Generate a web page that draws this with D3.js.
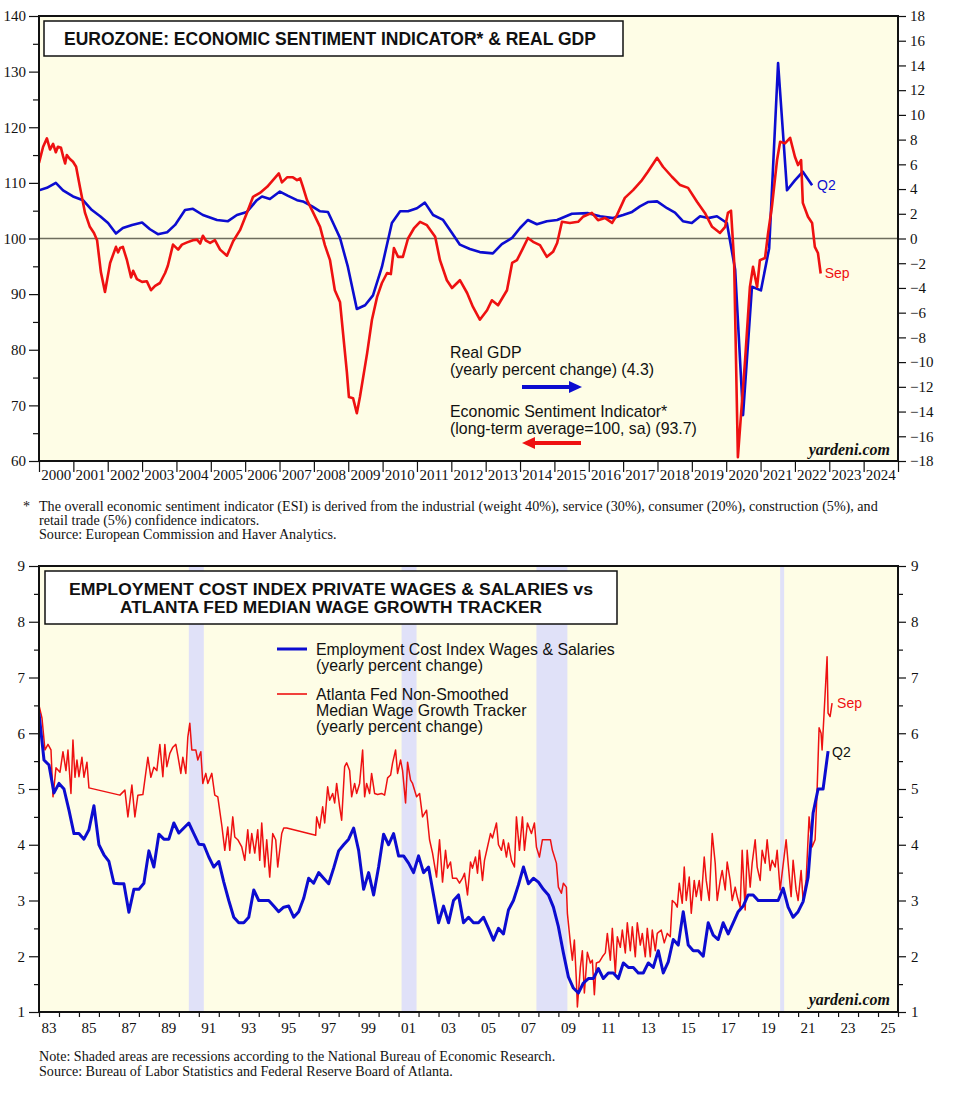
<!DOCTYPE html>
<html><head><meta charset="utf-8">
<script src="https://cdn.jsdelivr.net/npm/d3@7"></script>
<style>
body{margin:0;background:#fff;}
svg{display:block;}
.serif{font-family:"Liberation Serif","Times New Roman",serif;}
.sans{font-family:"Liberation Sans",Arial,sans-serif;}
</style></head>
<body>
<svg id="c" width="955" height="1097"></svg>
<script>
// ---------------- DATA: Eurozone chart ----------------
const esiT = [2000.00,2000.12,2000.23,2000.32,2000.41,2000.49,2000.55,2000.64,2000.70,2000.76,2000.81,2000.90,2000.99,2001.08,2001.19,2001.34,2001.48,2001.60,2001.69,2001.80,2001.92,2002.07,2002.24,2002.30,2002.36,2002.44,2002.56,2002.68,2002.74,2002.85,2003.00,2003.14,2003.26,2003.38,2003.52,2003.67,2003.75,2003.90,2004.05,2004.16,2004.31,2004.48,2004.60,2004.69,2004.77,2004.86,2004.98,2005.12,2005.27,2005.47,2005.65,2005.85,2006.05,2006.23,2006.43,2006.64,2006.81,2006.98,2007.07,2007.22,2007.39,2007.51,2007.60,2007.68,2007.80,2007.97,2008.18,2008.32,2008.47,2008.61,2008.76,2008.88,2008.96,2009.02,2009.14,2009.25,2009.34,2009.55,2009.69,2009.84,2009.98,2010.13,2010.24,2010.33,2010.45,2010.59,2010.74,2010.91,2011.09,2011.29,2011.53,2011.67,2011.87,2012.02,2012.25,2012.46,2012.63,2012.83,2013.04,2013.18,2013.36,2013.62,2013.77,2013.91,2014.09,2014.23,2014.38,2014.58,2014.78,2014.96,2015.08,2015.22,2015.45,2015.69,2015.83,2016.09,2016.27,2016.47,2016.68,2016.82,2017.05,2017.29,2017.55,2017.72,2017.99,2018.16,2018.42,2018.66,2018.89,2019.15,2019.38,2019.59,2019.82,2019.97,2020.05,2020.14,2020.23,2020.34,2020.55,2020.69,2020.78,2020.90,2020.98,2021.13,2021.22,2021.33,2021.48,2021.57,2021.71,2021.86,2022.00,2022.09,2022.18,2022.23,2022.38,2022.50,2022.58,2022.67,2022.75];
const esiV = [113.6,116.5,118.0,116.0,117.0,115.5,116.5,116.3,114.8,113.5,115.0,114.3,113.8,112.9,109.3,104.6,102.1,101.0,99.7,94.0,90.4,95.6,98.5,97.5,98.3,98.5,96.1,93.0,94.2,92.7,92.2,92.3,90.7,91.5,92.0,93.8,95.1,98.9,98.0,98.9,99.3,99.7,99.8,99.1,100.5,99.6,99.2,99.7,98.0,96.9,99.5,101.5,104.6,107.5,108.2,109.3,110.5,111.7,110.1,111.0,111.0,110.5,110.8,109.3,106.9,104.8,102.1,98.8,96.1,90.7,88.6,81.0,76.0,71.5,71.3,68.6,71.5,79.4,85.4,89.5,92.0,93.8,93.6,98.3,96.7,96.7,100.0,101.8,103.0,102.4,100.3,96.1,92.5,91.1,92.5,90.2,87.7,85.4,87.1,88.9,88.0,90.7,95.6,96.1,98.3,100.1,99.4,98.8,96.7,97.6,99.2,103.0,102.8,103.0,103.9,104.6,103.3,103.7,102.8,104.2,107.3,108.7,110.5,112.0,114.5,112.9,111.1,109.6,109.1,106.6,104.6,102.1,101.0,102.1,104.6,105.0,96.0,60.7,78.2,91.3,94.9,91.3,96.1,96.5,101.0,105.7,114.1,117.4,117.1,118.1,114.7,113.2,114.1,106.4,103.9,102.8,98.5,97.4,93.7];
const gdpT = [2000.00,2000.23,2000.49,2000.70,2000.99,2001.28,2001.54,2001.78,2002.01,2002.24,2002.44,2002.71,2003.00,2003.23,2003.46,2003.73,2003.96,2004.25,2004.48,2004.77,2005.18,2005.50,2005.76,2006.05,2006.34,2006.49,2006.72,2007.01,2007.25,2007.51,2007.68,2007.95,2008.18,2008.41,2008.56,2008.76,2008.99,2009.25,2009.49,2009.72,2009.98,2010.27,2010.51,2010.74,2011.00,2011.23,2011.47,2011.76,2012.02,2012.25,2012.54,2012.83,2013.21,2013.47,2013.77,2014.00,2014.23,2014.49,2014.78,2015.08,2015.51,2015.98,2016.33,2016.71,2017.00,2017.26,2017.49,2017.72,2017.99,2018.28,2018.51,2018.74,2019.00,2019.24,2019.47,2019.73,2020.02,2020.26,2020.49,2020.75,2021.01,2021.25,2021.51,2021.77,2022.00,2022.23,2022.50];
const gdpV = [3.9,4.1,4.5,3.9,3.4,3.1,2.3,1.8,1.25,0.4,0.85,1.1,1.3,0.75,0.35,0.5,1.1,2.3,2.4,1.9,1.5,1.4,1.9,2.15,3.1,3.4,3.2,3.8,3.45,3.1,3.0,2.6,2.2,2.15,1.25,0.05,-2.3,-5.7,-5.4,-4.6,-2.3,1.25,2.2,2.2,2.45,2.9,1.9,1.5,0.45,-0.5,-0.85,-1.1,-1.2,-0.45,0.05,0.85,1.5,1.15,1.4,1.5,2.0,2.05,1.8,1.65,1.9,2.15,2.6,2.95,3.0,2.45,2.1,1.4,1.25,1.8,1.65,1.8,1.25,-2.5,-14.3,-3.9,-4.2,-0.8,14.2,3.9,4.7,5.4,4.3];
const topYears = d3.range(2000, 2025);
const topLeftTicks = [60,70,80,90,100,110,120,130,140];
const topRightTicks = d3.range(-18, 19, 2);

// ---------------- DATA: Wages chart ----------------
const eciStartYear = 1983;  // quarterly, first quarter 1983
const eciValues = [6.36,5.52,5.43,4.93,5.1,5.0,4.62,4.2,4.2,4.1,4.27,4.7,4.0,3.82,3.7,3.31,3.3,3.3,2.79,3.2,3.2,3.31,3.89,3.6,4.19,4.1,4.1,4.39,4.21,4.3,4.39,4.2,4.01,4.0,3.78,3.6,3.7,3.33,3.0,2.7,2.6,2.6,2.7,3.19,3.0,3.0,3.0,2.9,2.8,2.88,2.9,2.7,2.8,3.04,3.4,3.31,3.5,3.4,3.3,3.58,3.89,4.0,4.1,4.3,3.9,3.2,3.5,3.1,3.6,4.19,4.0,4.2,3.8,3.8,3.67,3.5,3.8,3.5,3.6,3.1,2.6,2.9,2.6,3.0,3.1,2.6,2.7,2.6,2.6,2.7,2.5,2.29,2.5,2.4,2.83,3.0,3.28,3.6,3.3,3.4,3.33,3.2,3.1,2.88,2.53,2.06,1.63,1.43,1.34,1.52,1.6,1.6,1.78,1.6,1.7,1.7,1.6,1.88,1.8,1.8,1.7,1.7,1.88,1.8,2.1,1.7,1.9,2.3,2.2,2.8,2.2,2.1,2.1,2.0,2.6,2.38,2.3,2.6,2.4,2.6,2.8,2.9,3.1,3.1,3.0,3.0,3.0,3.0,3.0,3.22,2.88,2.7,2.8,2.98,3.42,4.57,5.0,5.0,5.68];
const atlT = [1983.00,1983.15,1983.30,1983.45,1983.60,1983.70,1983.85,1984.05,1984.20,1984.35,1984.45,1984.60,1984.70,1984.80,1984.90,1985.00,1985.15,1985.25,1985.40,1985.50,1987.05,1987.30,1987.45,1987.65,1987.80,1987.95,1988.20,1988.45,1988.60,1988.75,1988.90,1989.05,1989.20,1989.30,1989.40,1989.55,1989.70,1989.85,1989.95,1990.10,1990.20,1990.35,1990.45,1990.55,1990.65,1990.85,1990.95,1991.10,1991.20,1991.35,1991.45,1991.65,1991.80,1991.95,1992.15,1992.30,1992.45,1992.55,1992.70,1992.80,1992.95,1993.15,1993.30,1993.45,1993.55,1993.65,1993.80,1993.95,1994.05,1994.15,1994.30,1994.40,1994.55,1994.70,1994.85,1994.95,1995.15,1995.25,1995.40,1996.85,1996.90,1997.05,1997.20,1997.30,1997.45,1997.55,1997.70,1997.80,1997.90,1998.05,1998.15,1998.30,1998.40,1998.55,1998.65,1998.80,1998.90,1999.05,1999.20,1999.30,1999.40,1999.55,1999.65,1999.80,1999.95,2000.15,2000.30,2000.45,2000.60,2000.70,2000.85,2000.95,2001.10,2001.20,2001.35,2001.45,2001.60,2001.70,2001.90,2002.05,2002.20,2002.40,2002.55,2002.70,2002.90,2003.05,2003.20,2003.35,2003.45,2003.60,2003.70,2003.90,2004.05,2004.20,2004.30,2004.45,2004.60,2004.70,2004.85,2004.95,2005.05,2005.20,2005.30,2005.45,2005.60,2005.70,2005.90,2006.00,2006.15,2006.25,2006.40,2006.50,2006.65,2006.80,2006.90,2007.05,2007.20,2007.30,2007.45,2007.65,2007.80,2007.90,2008.05,2008.20,2008.40,2008.60,2008.70,2008.90,2009.00,2009.15,2009.25,2009.40,2009.45,2009.60,2009.70,2009.80,2009.90,2009.95,2010.10,2010.20,2010.30,2010.45,2010.60,2010.70,2010.80,2010.90,2011.05,2011.20,2011.35,2011.45,2011.60,2011.70,2011.85,2011.95,2012.10,2012.20,2012.35,2012.45,2012.60,2012.70,2012.85,2012.95,2013.10,2013.20,2013.35,2013.45,2013.60,2013.70,2013.85,2013.95,2014.15,2014.30,2014.45,2014.60,2014.70,2014.85,2014.95,2015.05,2015.20,2015.30,2015.40,2015.55,2015.65,2015.80,2015.90,2016.05,2016.15,2016.30,2016.40,2016.55,2016.70,2016.85,2016.95,2017.10,2017.20,2017.35,2017.45,2017.60,2017.70,2017.85,2017.95,2018.10,2018.20,2018.35,2018.45,2018.60,2018.70,2018.85,2018.95,2019.10,2019.20,2019.35,2019.45,2019.60,2019.70,2019.85,2019.95,2020.10,2020.20,2020.40,2020.50,2020.65,2020.75,2020.90,2021.00,2021.15,2021.25,2021.40,2021.55,2021.70,2021.85,2021.95,2022.05,2022.15,2022.20,2022.30,2022.45,2022.50,2022.60,2022.70];
const atlV = [6.5,6.27,5.7,5.8,5.7,4.86,5.38,5.3,5.67,5.33,5.7,4.92,5.88,5.21,5.52,5.22,5.57,5.21,5.48,5.02,4.89,4.98,4.5,5.07,4.5,4.89,4.9,5.57,5.21,5.39,5.33,5.8,5.22,5.8,5.4,5.64,5.75,5.8,5.6,5.28,5.57,5.28,5.93,6.18,5.7,5.7,5.52,5.67,5.1,5.28,5.1,5.28,4.89,4.86,4.35,3.9,4.32,3.9,4.5,4.14,4.09,3.96,3.72,4.27,3.85,4.2,3.85,4.27,3.72,4.39,3.6,4.09,3.42,4.2,4.09,3.6,4.2,4.3,4.3,4.17,4.5,4.3,4.68,4.39,5.04,4.8,4.92,4.75,5.1,4.68,4.44,5.4,5.47,5.33,4.86,5.1,4.92,5.1,5.7,4.86,5.1,4.92,5.28,4.92,4.9,4.92,4.89,5.2,5.25,5.47,5.7,5.28,5.52,5.33,4.75,5.48,5.16,5.1,4.86,4.92,4.5,4.62,4.09,3.85,3.42,4.09,3.33,3.9,3.58,3.69,3.4,3.4,3.31,3.4,3.49,3.1,3.69,3.58,3.78,3.49,3.9,3.36,3.72,3.96,4.2,4.12,4.39,4.0,3.9,4.09,3.78,4.03,3.72,3.6,4.5,3.9,4.5,3.9,4.39,4.2,4.39,3.96,3.78,4.09,4.09,4.09,3.9,3.67,3.24,3.13,3.31,3.24,2.77,2.24,1.93,2.29,1.57,1.09,1.8,2.1,1.34,2.07,1.88,1.93,1.31,1.88,1.9,1.99,2.06,2.41,1.93,2.5,1.7,2.35,2.16,2.47,2.06,2.6,2.1,2.53,1.99,2.6,2.2,2.41,1.99,2.5,1.99,2.47,2.1,2.41,2.47,2.24,2.41,2.35,3.0,2.95,2.88,3.31,2.95,3.6,3.0,3.42,2.77,3.36,3.07,3.36,3.0,3.78,3.36,3.0,4.2,3.67,3.0,3.36,3.54,3.19,3.69,3.36,3.0,3.24,3.07,2.88,3.9,2.83,3.9,3.24,3.67,4.09,3.6,3.36,3.9,3.67,4.09,3.54,3.72,3.6,3.9,3.19,3.49,4.09,3.67,3.07,3.72,3.19,3.0,3.54,3.0,3.36,4.5,3.96,4.09,4.98,6.1,6.0,5.7,6.36,7.37,6.36,6.3,6.54];
const recessions = [[1990.5,1991.25],[2001.15,2001.9],[2007.9,2009.45],[2020.1,2020.3]];
const botYears = d3.range(1983, 2026);
const botLabelYears = d3.range(1983, 2026, 2);
const botTicks = d3.range(1, 10);

// ---------------- DRAW ----------------
const svg = d3.select("#c");
const RED = "#ee1111", BLUE = "#0c0cd0", BG = "#fefde6";

function frame(g, x0, y0, x1, y1, clipId) {
  g.append("rect").attr("x", x0).attr("y", y0).attr("width", x1 - x0).attr("height", y1 - y0).attr("fill", BG);
  svg.append("clipPath").attr("id", clipId).append("rect")
    .attr("x", x0).attr("y", y0).attr("width", x1 - x0).attr("height", y1 - y0);
}

// ===== TOP CHART =====
const T = {l: 39, r: 898, t: 16, b: 461};
const x1 = d3.scaleLinear().domain([2000, 2025]).range([T.l, T.r]);
const yL1 = d3.scaleLinear().domain([60, 140]).range([T.b, T.t]);
const yR1 = d3.scaleLinear().domain([-18, 18]).range([T.b, T.t]);
const gT = svg.append("g");
frame(gT, T.l, T.t, T.r, T.b, "clipT");

gT.append("line").attr("x1", T.l).attr("x2", T.r).attr("y1", yL1(100)).attr("y2", yL1(100))
  .attr("stroke", "#6e6e5e").attr("stroke-width", 1.6);

const plotT = gT.append("g").attr("clip-path", "url(#clipT)");
plotT.append("path").datum(d3.range(gdpT.length))
  .attr("fill", "none").attr("stroke", BLUE).attr("stroke-width", 2.6).attr("stroke-linejoin", "round")
  .attr("d", d3.line().x(i => x1(gdpT[i])).y(i => yR1(gdpV[i])));
plotT.append("path").datum(d3.range(esiT.length))
  .attr("fill", "none").attr("stroke", RED).attr("stroke-width", 2.6).attr("stroke-linejoin", "round")
  .attr("d", d3.line().x(i => x1(esiT[i])).y(i => yL1(esiV[i])));

gT.append("rect").attr("x", T.l).attr("y", T.t).attr("width", T.r - T.l).attr("height", T.b - T.t)
  .attr("fill", "none").attr("stroke", "#111").attr("stroke-width", 2);

gT.append("g").attr("transform", `translate(${T.l},0)`)
  .call(d3.axisLeft(yL1).tickValues(topLeftTicks).tickSize(10).tickPadding(3).tickFormat(d3.format("d")));
gT.append("g").attr("transform", `translate(${T.l},0)`)
  .call(d3.axisLeft(yL1).tickValues(d3.range(65, 140, 10)).tickSize(6).tickFormat(""));
gT.append("g").attr("transform", `translate(${T.r},0)`)
  .call(d3.axisRight(yR1).tickValues(topRightTicks).tickSize(8).tickPadding(4).tickFormat(d3.format("d")));
gT.append("g").attr("transform", `translate(0,${T.b})`)
  .call(d3.axisBottom(x1).tickValues(d3.range(2000, 2026)).tickSize(11).tickFormat(""));
gT.append("g").selectAll("text").data(topYears).join("text")
  .attr("class", "serif").attr("x", d => x1(d + 0.5)).attr("y", T.b + 19)
  .attr("text-anchor", "middle").attr("font-size", 15).attr("fill", "#111").text(d => d);

gT.append("rect").attr("x", 44).attr("y", 21).attr("width", 579).attr("height", 35)
  .attr("fill", "#fff").attr("stroke", "#111").attr("stroke-width", 1.5);
gT.append("text").attr("class", "sans").attr("x", 64).attr("y", 45).attr("font-size", 17.5)
  .attr("font-weight", "bold").attr("fill", "#111").text("EUROZONE: ECONOMIC SENTIMENT INDICATOR* & REAL GDP");

gT.append("text").attr("class", "sans").attr("x", x1(gdpT[gdpT.length - 1]) + 5).attr("y", yR1(gdpV[gdpV.length - 1]) + 5)
  .attr("font-size", 14).attr("fill", BLUE).text("Q2");
gT.append("text").attr("class", "sans").attr("x", x1(esiT[esiT.length - 1]) + 4).attr("y", yL1(esiV[esiV.length - 1]) + 4)
  .attr("font-size", 14).attr("fill", RED).text("Sep");

const lg = gT.append("g").attr("class", "sans").attr("font-size", 15.9).attr("fill", "#111");
lg.append("text").attr("x", 450).attr("y", 358).text("Real GDP");
lg.append("text").attr("x", 450).attr("y", 375).text("(yearly percent change) (4.3)");
lg.append("text").attr("x", 450).attr("y", 417).text("Economic Sentiment Indicator*");
lg.append("text").attr("x", 450).attr("y", 434).text("(long-term average=100, sa) (93.7)");
gT.append("line").attr("x1", 522).attr("x2", 572).attr("y1", 387).attr("y2", 387).attr("stroke", BLUE).attr("stroke-width", 4);
gT.append("path").attr("d", "M569,381 L582,387 L569,393 Z").attr("fill", BLUE);
gT.append("line").attr("x1", 532).attr("x2", 581).attr("y1", 443).attr("y2", 443).attr("stroke", RED).attr("stroke-width", 4);
gT.append("path").attr("d", "M535,437 L522,443 L535,449 Z").attr("fill", RED);

gT.append("text").attr("class", "serif").attr("x", 890).attr("y", 455).attr("text-anchor", "end")
  .attr("font-size", 16).attr("font-weight", "bold").attr("font-style", "italic").attr("fill", "#111").text("yardeni.com");

const fn = svg.append("g").attr("class", "serif").attr("font-size", 14.1).attr("fill", "#111");
fn.append("text").attr("x", 23).attr("y", 511).text("*");
fn.append("text").attr("x", 39).attr("y", 511).text("The overall economic sentiment indicator (ESI) is derived from the industrial (weight 40%), service (30%), consumer (20%), construction (5%), and");
fn.append("text").attr("x", 39).attr("y", 525).text("retail trade (5%) confidence indicators.");
fn.append("text").attr("x", 39).attr("y", 539).text("Source: European Commission and Haver Analytics.");

// ===== BOTTOM CHART =====
const B = {l: 39, r: 898, t: 566, b: 1012};
const x2 = d3.scaleLinear().domain([1983, 2026]).range([B.l, B.r]);
const y2 = d3.scaleLinear().domain([1, 9]).range([B.b, B.t]);
const gB = svg.append("g");
frame(gB, B.l, B.t, B.r, B.b, "clipB");

gB.append("g").selectAll("rect").data(recessions).join("rect")
  .attr("x", d => x2(d[0])).attr("width", d => x2(d[1]) - x2(d[0]))
  .attr("y", B.t).attr("height", B.b - B.t).attr("fill", "#e0e1f8");

const plotB = gB.append("g").attr("clip-path", "url(#clipB)");
plotB.append("path").datum(d3.range(atlT.length))
  .attr("fill", "none").attr("stroke", RED).attr("stroke-width", 1.5).attr("stroke-linejoin", "round")
  .attr("d", d3.line().x(i => x2(atlT[i])).y(i => y2(atlV[i])));
plotB.append("path").datum(d3.range(eciValues.length))
  .attr("fill", "none").attr("stroke", BLUE).attr("stroke-width", 3).attr("stroke-linejoin", "round")
  .attr("d", d3.line().x(i => x2(eciStartYear + i * 0.25)).y(i => y2(eciValues[i])));

gB.append("rect").attr("x", B.l).attr("y", B.t).attr("width", B.r - B.l).attr("height", B.b - B.t)
  .attr("fill", "none").attr("stroke", "#111").attr("stroke-width", 2);

gB.append("g").attr("transform", `translate(${B.l},0)`)
  .call(d3.axisLeft(y2).tickValues(botTicks).tickSize(10).tickPadding(4).tickFormat(d3.format("d")));
gB.append("g").attr("transform", `translate(${B.l},0)`)
  .call(d3.axisLeft(y2).tickValues(d3.range(1.5, 9, 1)).tickSize(5).tickFormat(""));
gB.append("g").attr("transform", `translate(${B.r},0)`)
  .call(d3.axisRight(y2).tickValues(botTicks).tickSize(8).tickPadding(5).tickFormat(d3.format("d")));
gB.append("g").attr("transform", `translate(${B.r},0)`)
  .call(d3.axisRight(y2).tickValues(d3.range(1.5, 9, 1)).tickSize(5).tickFormat(""));
gB.append("g").attr("transform", `translate(0,${B.b})`)
  .call(d3.axisBottom(x2).tickValues(d3.range(1983, 2027)).tickSize(5).tickFormat(""));
gB.append("g").selectAll("text").data(botLabelYears).join("text")
  .attr("class", "serif").attr("x", d => x2(d + 0.5)).attr("y", B.b + 21)
  .attr("text-anchor", "middle").attr("font-size", 15).attr("fill", "#111").text(d => String(d % 100).padStart(2, "0"));

gB.append("rect").attr("x", 45).attr("y", 571).attr("width", 572).attr("height", 53)
  .attr("fill", "#fff").attr("stroke", "#111").attr("stroke-width", 1.5);
gB.append("text").attr("class", "sans").attr("x", 331).attr("y", 594.5).attr("text-anchor", "middle")
  .attr("font-size", 16).attr("textLength", 524).attr("lengthAdjust", "spacingAndGlyphs")
  .attr("font-weight", "bold").attr("fill", "#111").text("EMPLOYMENT COST INDEX PRIVATE WAGES & SALARIES vs");
gB.append("text").attr("class", "sans").attr("x", 331).attr("y", 613).attr("text-anchor", "middle")
  .attr("font-size", 16).attr("textLength", 422).attr("lengthAdjust", "spacingAndGlyphs")
  .attr("font-weight", "bold").attr("fill", "#111").text("ATLANTA FED MEDIAN WAGE GROWTH TRACKER");

gB.append("line").attr("x1", 277).attr("x2", 307).attr("y1", 649).attr("y2", 649).attr("stroke", BLUE).attr("stroke-width", 3);
gB.append("line").attr("x1", 277).attr("x2", 307).attr("y1", 694).attr("y2", 694).attr("stroke", RED).attr("stroke-width", 1.6);
const lb = gB.append("g").attr("class", "sans").attr("font-size", 15.9).attr("fill", "#111");
lb.append("text").attr("x", 316).attr("y", 655).text("Employment Cost Index Wages & Salaries");
lb.append("text").attr("x", 316).attr("y", 671).text("(yearly percent change)");
lb.append("text").attr("x", 316).attr("y", 700).text("Atlanta Fed Non-Smoothed");
lb.append("text").attr("x", 316).attr("y", 716).text("Median Wage Growth Tracker");
lb.append("text").attr("x", 316).attr("y", 732).text("(yearly percent change)");

gB.append("text").attr("class", "sans").attr("x", x2(atlT[atlT.length - 1]) + 5).attr("y", y2(atlV[atlV.length - 1]) + 5)
  .attr("font-size", 14).attr("fill", RED).text("Sep");
gB.append("text").attr("class", "sans").attr("x", x2(eciStartYear + (eciValues.length - 1) * 0.25) + 4).attr("y", y2(eciValues[eciValues.length - 1]) + 6)
  .attr("font-size", 14).attr("fill", "#111").text("Q2");

gB.append("text").attr("class", "serif").attr("x", 890).attr("y", 1005).attr("text-anchor", "end")
  .attr("font-size", 16).attr("font-weight", "bold").attr("font-style", "italic").attr("fill", "#111").text("yardeni.com");

const nb = svg.append("g").attr("class", "serif").attr("font-size", 14.1).attr("fill", "#111");
nb.append("text").attr("x", 39).attr("y", 1061).text("Note: Shaded areas are recessions according to the National Bureau of Economic Research.");
nb.append("text").attr("x", 39).attr("y", 1076).text("Source: Bureau of Labor Statistics and Federal Reserve Board of Atlanta.");

svg.selectAll(".domain").remove();
svg.selectAll(".tick line").attr("stroke", "#111").attr("stroke-width", 1.2);
svg.selectAll(".tick text").attr("font-family", "Liberation Serif, Times New Roman, serif").attr("font-size", 15).attr("fill", "#111");
</script>
</body></html>
